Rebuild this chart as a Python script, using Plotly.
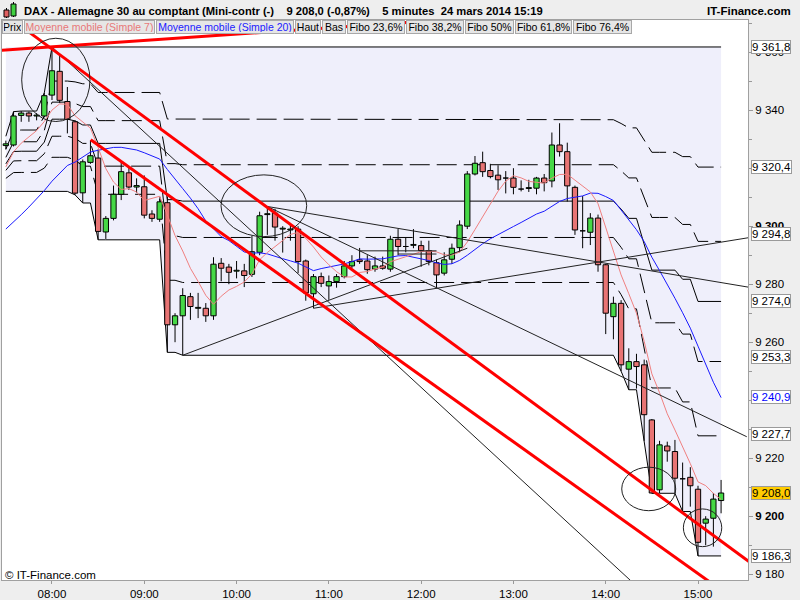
import pandas as pd
import plotly.graph_objects as go

DAY = "2014-03-24"

# 5-minute candles from 07:30 to 15:15
opens = [9327.8, 9328.0, 9338.2, 9339.0, 9338.0, 9338.0, 9345.2, 9353.4, 9343.0, 9336.0,
         9311.5, 9322.0, 9323.5, 9298.0, 9302.7, 9311.0, 9318.4, 9313.5, 9313.6, 9304.2,
         9302.4, 9308.1, 9266.0, 9269.1, 9275.7, 9271.7, 9271.7, 9269.1, 9287.2, 9285.9,
         9284.5, 9284.6, 9283.4, 9291.0, 9304.0, 9304.5, 9299.0, 9298.7, 9299.0, 9288.0,
         9276.7, 9282.6, 9279.4, 9280.9, 9282.6, 9286.3, 9288.4, 9288.0, 9285.2, 9286.3,
         9285.2, 9295.5, 9293.0, 9293.4, 9293.3, 9291.6, 9287.4, 9283.8, 9288.6, 9292.6,
         9300.0, 9318.0, 9321.9, 9319.2, 9317.6, 9316.6, 9316.6, 9313.0, 9313.0, 9313.1,
         9316.6, 9315.6, 9328.0, 9325.7, 9313.4, 9298.4, 9297.9, 9302.8, 9286.7, 9268.8,
         9273.4, 9250.7, 9253.3, 9252.2, 9233.2, 9209.1, 9224.2, 9222.3, 9212.9, 9213.4,
         9209.3, 9197.6, 9199.3, 9205.4]
highs = [9329.5, 9339.5, 9339.7, 9339.5, 9339.0, 9346.0, 9361.8, 9359.0, 9348.0, 9336.5,
         9323.0, 9329.6, 9326.5, 9303.5, 9314.0, 9322.0, 9320.5, 9316.5, 9317.5, 9305.5,
         9309.5, 9310.2, 9270.0, 9278.6, 9277.0, 9277.0, 9273.5, 9289.3, 9289.0, 9287.0,
         9288.0, 9287.0, 9296.7, 9305.0, 9306.8, 9306.0, 9300.0, 9300.5, 9300.0, 9288.5,
         9283.5, 9284.0, 9283.0, 9283.5, 9288.0, 9290.0, 9292.5, 9290.0, 9289.5, 9289.5,
         9296.7, 9299.0, 9296.0, 9299.0, 9295.0, 9295.0, 9288.5, 9291.0, 9294.0, 9302.0,
         9319.0, 9324.2, 9325.7, 9321.5, 9321.0, 9319.0, 9320.0, 9315.8, 9316.0, 9317.0,
         9318.0, 9332.3, 9335.5, 9328.8, 9314.0, 9310.4, 9304.5, 9304.0, 9287.0, 9275.7,
         9274.5, 9257.9, 9256.0, 9254.0, 9233.5, 9226.0, 9225.7, 9226.3, 9218.5, 9216.9,
         9210.5, 9200.0, 9208.0, 9212.5]
lows = [9326.5, 9327.5, 9336.0, 9336.0, 9336.5, 9337.5, 9343.5, 9342.5, 9332.0, 9310.8,
        9308.0, 9321.5, 9295.3, 9295.6, 9302.0, 9309.0, 9312.5, 9311.5, 9302.7, 9301.5,
        9301.5, 9256.5, 9260.0, 9255.5, 9267.7, 9268.3, 9267.0, 9267.7, 9281.0, 9280.0,
        9282.0, 9279.0, 9282.5, 9290.0, 9297.0, 9295.0, 9290.9, 9295.0, 9283.8, 9274.3,
        9271.7, 9279.0, 9274.6, 9278.8, 9282.0, 9285.5, 9287.0, 9283.6, 9284.3, 9285.0,
        9284.3, 9290.0, 9291.0, 9292.4, 9286.0, 9286.5, 9278.6, 9283.0, 9287.0, 9291.0,
        9299.0, 9317.5, 9317.0, 9316.5, 9312.5, 9311.3, 9311.0, 9312.0, 9311.8, 9311.0,
        9312.0, 9313.4, 9324.0, 9308.5, 9297.0, 9292.4, 9293.5, 9284.3, 9262.8, 9261.0,
        9250.0, 9243.6, 9244.0, 9226.0, 9207.9, 9208.0, 9218.8, 9208.0, 9201.6, 9203.3,
        9186.3, 9190.0, 9189.5, 9201.0]
closes = [9328.4, 9338.0, 9339.0, 9338.0, 9338.3, 9345.0, 9353.6, 9343.4, 9336.8, 9311.4,
          9322.2, 9324.3, 9298.2, 9302.7, 9311.0, 9318.8, 9313.5, 9314.0, 9303.8, 9302.7,
          9308.4, 9266.0, 9269.1, 9276.1, 9272.3, 9272.0, 9269.1, 9286.9, 9285.5, 9284.1,
          9284.8, 9283.0, 9291.2, 9303.6, 9304.3, 9299.7, 9299.3, 9299.0, 9287.8, 9277.0,
          9282.6, 9280.3, 9280.9, 9282.6, 9286.3, 9287.8, 9287.8, 9285.0, 9286.3, 9285.5,
          9295.5, 9293.0, 9293.2, 9293.7, 9291.6, 9287.8, 9283.2, 9288.4, 9292.4, 9300.4,
          9318.0, 9321.7, 9318.8, 9317.1, 9316.0, 9316.8, 9313.4, 9312.8, 9313.3, 9316.6,
          9315.0, 9328.0, 9325.7, 9313.9, 9298.7, 9298.6, 9302.8, 9286.7, 9270.0, 9273.4,
          9252.2, 9253.3, 9251.6, 9235.0, 9208.0, 9224.6, 9222.5, 9213.1, 9213.1, 9210.5,
          9191.0, 9199.0, 9205.9, 9208.0]

# closes before 07:30 (off screen), only used to start the moving averages
earlier_closes = [9290, 9288, 9285, 9284, 9286, 9289, 9287, 9285, 9288, 9290,
                  9287, 9286, 9292, 9302, 9318, 9322, 9324, 9323, 9326]
# session high / low reached before 07:30
prior_high = 9331.0
prior_low = 9312.0

fibo_ratios = [0.236, 0.382, 0.5, 0.618, 0.764]
fibo_names = ["Fibo 23,6%", "Fibo 38,2%", "Fibo 50%", "Fibo 61,8%", "Fibo 76,4%"]
fibo_dash = ["20px,7px", "20px,7px", "solid", "20px,7px", "20px,7px"]

price_ticks = [9180, 9200, 9220, 9240, 9260, 9280, 9300, 9320, 9340, 9360]
# these tick labels sit right under the value boxes in the original, so they stay blank
hidden_ticks = [9240, 9320]
hour_ticks = ["08:00", "09:00", "10:00", "11:00", "12:00", "13:00", "14:00", "15:00"]

# hand drawn lines on the chart: (time, price) -> (time, price)
red_lines = [
    (("07:20:00", 9360.4), ("12:00:00", 9370.6)),
    (("07:43:06", 9367.7), ("15:34:00", 9184.0)),
    (("08:25:10", 9329.8), ("15:32:30", 9167.9)),
]
black_lines = [
    (("08:00:00", 9361.8), ("14:22:20", 9174.8)),
    (("10:20:00", 9306.8), ("15:32:30", 9279.0)),
    (("10:20:00", 9306.8), ("15:31:42", 9227.4)),
    (("10:50:00", 9271.7), ("15:32:30", 9296.0)),
    (("09:25:00", 9255.5), ("12:30:00", 9292.4)),
    (("11:20:00", 9291.5), ("12:10:00", 9291.5)),
    (("11:45:00", 9290.4), ("12:10:00", 9290.4)),
]
# circles: time from, time to, price low, price high
circles = [
    ("07:40:18", "08:24:42", 9336.1, 9364.8),
    ("09:49:53", "10:45:36", 9296.4, 9317.7),
    ("14:10:25", "14:45:30", 9201.9, 9216.9),
    ("14:50:29", "15:15:26", 9189.5, 9202.5),
]

HALF_BODY = pd.Timedelta(seconds=103)  # half a candle body, ~70% of the 5 minute slot


def fr(v, dec=1):
    # french style number: 9 361,8
    return f"{v:,.{dec}f}".replace(",", " ").replace(".", ",")


def ts(hm):
    return f"{DAY} {hm}"


def px_x(p):
    # figure pixel -> paper x (plot spans 2..748)
    return (p - 2) / 746


def px_y(p):
    # figure pixel -> paper y (plot spans 20..580)
    return (580 - p) / 560


times = pd.date_range(ts("07:30"), periods=len(closes), freq="5min")
run_hi = pd.Series(highs).cummax().clip(lower=prior_high)
run_lo = pd.Series(lows).cummin().clip(upper=prior_low)
all_closes = pd.Series(earlier_closes + closes, dtype=float)
ma7 = all_closes.rolling(7).mean().iloc[len(earlier_closes):].values
ma20 = all_closes.rolling(20).mean().iloc[len(earlier_closes):].values
haut = max(highs)
bas = min(lows)

fig = go.Figure()

# shaded zone between the day high and the running low
fig.add_trace(go.Scatter(x=times, y=[haut] * len(times), mode="lines",
                         line=dict(width=0), hoverinfo="skip"))
fig.add_trace(go.Scatter(x=times, y=run_lo, mode="lines", fill="tonexty",
                         fillcolor="#efeffb", line=dict(color="black", width=1)))
fig.add_trace(go.Scatter(x=times, y=run_hi, mode="lines",
                         line=dict(color="black", width=1)))

for r, dash in zip(fibo_ratios, fibo_dash):
    lvl = run_hi - r * (run_hi - run_lo)
    fig.add_trace(go.Scatter(x=times, y=lvl, mode="lines",
                             line=dict(color="black", width=1, dash=dash)))

# candles: wicks, then bodies as small filled rectangles (kept in the scatter layer
# so the shaded zone stays underneath)
wick_x, wick_y = [], []
for t, h, l in zip(times, highs, lows):
    wick_x += [t, t, None]
    wick_y += [l, h, None]
fig.add_trace(go.Scatter(x=wick_x, y=wick_y, mode="lines",
                         line=dict(color="black", width=1), hoverinfo="skip"))
for up, colour in [(True, "#46d846"), (False, "#e87474")]:
    bx, by = [], []
    for t, o, c in zip(times, opens, closes):
        if (c >= o) != up:
            continue
        lo_b, hi_b = min(o, c), max(o, c)
        bx += [t - HALF_BODY, t + HALF_BODY, t + HALF_BODY, t - HALF_BODY, t - HALF_BODY, None]
        by += [lo_b, lo_b, hi_b, hi_b, lo_b, None]
    fig.add_trace(go.Scatter(x=bx, y=by, mode="lines", fill="toself", fillcolor=colour,
                             line=dict(color="black", width=1), hoverinfo="skip"))

fig.add_trace(go.Scatter(x=times, y=ma20, mode="lines", line=dict(color="#1a1aff", width=1)))
fig.add_trace(go.Scatter(x=times, y=ma7, mode="lines", line=dict(color="#f08080", width=1)))

for (t0, p0), (t1, p1) in black_lines:
    fig.add_trace(go.Scatter(x=[ts(t0), ts(t1)], y=[p0, p1], mode="lines",
                             line=dict(color="#222222", width=1)))
for (t0, p0), (t1, p1) in red_lines:
    fig.add_trace(go.Scatter(x=[ts(t0), ts(t1)], y=[p0, p1], mode="lines",
                             line=dict(color="#ff0000", width=3)))

for t0, t1, p0, p1 in circles:
    fig.add_shape(type="circle", xref="x", yref="y", x0=ts(t0), x1=ts(t1), y0=p0, y1=p1,
                  line=dict(color="#222222", width=1), layer="above")

# little candle icon in the title bar
fig.add_shape(type="line", xref="paper", yref="paper", x0=px_x(6.5), x1=px_x(6.5),
              y0=px_y(18), y1=px_y(8), line=dict(color="black", width=1))
fig.add_shape(type="rect", xref="paper", yref="paper", x0=px_x(4), x1=px_x(9),
              y0=px_y(17), y1=px_y(10), fillcolor="#e06060", line=dict(color="black", width=1))
fig.add_shape(type="line", xref="paper", yref="paper", x0=px_x(13.5), x1=px_x(13.5),
              y0=px_y(17), y1=px_y(2), line=dict(color="black", width=1))
fig.add_shape(type="rect", xref="paper", yref="paper", x0=px_x(11), x1=px_x(16),
              y0=px_y(16), y1=px_y(4), fillcolor="#40d040", line=dict(color="black", width=1))

last = closes[-1]
title = ("DAX - Allemagne 30 au comptant (Mini-contr (-)\u00a0\u00a0\u00a0 "
         f"{fr(last)} (-0,87%)\u00a0\u00a0\u00a0 5 minutes\u00a0 24 mars 2014 15:19")
fig.add_annotation(xref="paper", yref="paper", x=px_x(22), y=px_y(11), xanchor="left",
                   yanchor="middle", showarrow=False, text=f"<b>{title}</b>",
                   font=dict(size=11.2, color="black"))
fig.add_annotation(xref="paper", yref="paper", x=px_x(793), y=px_y(11), xanchor="right",
                   yanchor="middle", showarrow=False, text="<b>IT-Finance.com</b>",
                   font=dict(size=11.5, color="black"))

# legend buttons row
legend_names = ["Prix", "Moyenne mobile (Simple 7)", "Moyenne mobile (Simple 20)",
                "Haut", "Bas"] + fibo_names
legend_colors = ["black", "#e87878", "#2020ff"] + ["black"] * 7
legend_left = [2, 24, 156, 295, 322, 347, 406, 465, 515, 573]
legend_right = [23, 155, 294, 321, 346, 405, 464, 514, 572, 632]
for name, col, a, b in zip(legend_names, legend_colors, legend_left, legend_right):
    fig.add_annotation(xref="paper", yref="paper", x=px_x(a), y=px_y(27.5),
                       xanchor="left", yanchor="middle", showarrow=False, text=name,
                       width=b - a - 4, height=10, borderpad=1, bgcolor="#e6e6e6",
                       bordercolor="#a8a8a8", borderwidth=1, align="center",
                       font=dict(size=10.5, color=col))

# value boxes on the price axis
fib_final = [run_hi.iloc[-1] - r * (run_hi.iloc[-1] - run_lo.iloc[-1]) for r in fibo_ratios]
boxes = [(haut, "black", "white", 0)]
box_shift = [0, 7, 0, 5, 2]
for v, s in zip(fib_final, box_shift):
    boxes.append((v, "black", "white", s))
boxes += [(bas, "black", "white", 0), (ma20[-1], "#0000ff", "white", 1),
          (last, "black", "#ffcc00", 0)]
for v, col, bg, s in boxes:
    fig.add_annotation(xref="paper", yref="y", x=px_x(751), y=v, yshift=s,
                       xanchor="left", yanchor="middle", showarrow=False, text=fr(v),
                       height=12, bgcolor=bg, bordercolor="#9a9a9a", borderwidth=1,
                       borderpad=0, font=dict(size=11.5, color=col))

fig.add_annotation(xref="paper", yref="paper", x=px_x(3), y=px_y(575), xanchor="left",
                   yanchor="middle", showarrow=False, text="© IT-Finance.com",
                   font=dict(size=11.5, color="black"))

tick_text = []
for v in price_ticks:
    if v in hidden_ticks:
        tick_text.append("")
    elif v % 100 == 0:
        tick_text.append(f"<b>{fr(v, 0)}</b>")
    else:
        tick_text.append(fr(v, 0))

fig.update_layout(
    width=800, height=600,
    margin=dict(l=2, r=52, t=20, b=20),
    paper_bgcolor="#eeeeee", plot_bgcolor="white",
    showlegend=False,
    font=dict(family="Liberation Sans, Arial, sans-serif", size=11.5, color="black"),
    xaxis=dict(type="date", range=[ts("07:27:30"), ts("15:32:30")],
               tickvals=[ts(h) for h in hour_ticks], ticktext=hour_ticks,
               ticks="outside", ticklen=3, tickcolor="#999999",
               showgrid=False, zeroline=False, showline=True, linecolor="#a0a0a0",
               mirror=True, automargin=False, fixedrange=True),
    yaxis=dict(side="right", range=[9178.0, 9371.1],
               tickvals=price_ticks, ticktext=tick_text,
               ticks="outside", ticklen=4, tickcolor="#999999",
               minor=dict(tickvals=list(range(9180, 9371, 10)), ticks="outside",
                          ticklen=3, tickcolor="#999999", showgrid=False),
               showgrid=False, zeroline=False, showline=True, linecolor="#a0a0a0",
               mirror=True, automargin=False, fixedrange=True),
)

# the page body has a default 8px margin; drop it so the chart sits at the window corner
fig.write_html("out.html", config={"displayModeBar": False},
               post_script="document.body.style.margin='0';")
